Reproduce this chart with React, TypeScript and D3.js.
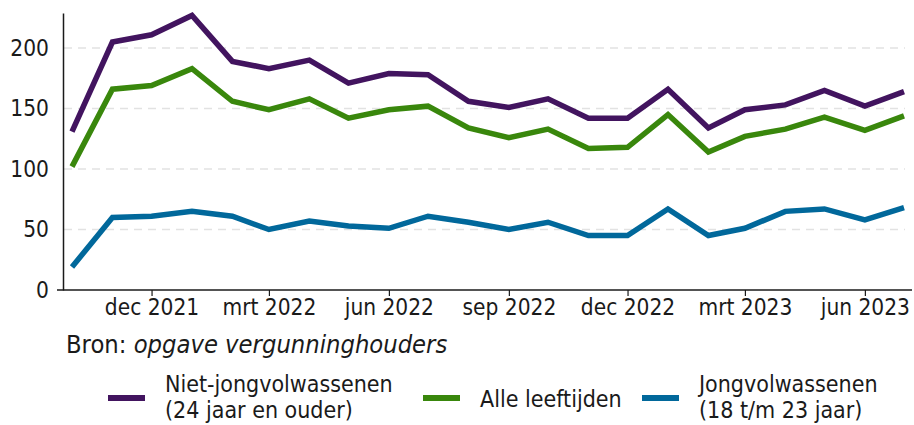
import * as d3 from 'd3';
import React, { useEffect, useRef } from 'react';

// monthly data, okt 2021 t/m jul 2023
const months = [
  '2021-10', '2021-11', '2021-12', '2022-01', '2022-02', '2022-03', '2022-04', '2022-05',
  '2022-06', '2022-07', '2022-08', '2022-09', '2022-10', '2022-11', '2022-12', '2023-01',
  '2023-02', '2023-03', '2023-04', '2023-05', '2023-06', '2023-07',
];
const nietJong = [131, 205, 211, 227, 189, 183, 190, 171, 179, 178, 156, 151, 158, 142, 142, 166, 134, 149, 153, 165, 152, 164];
const alle = [102, 166, 169, 183, 156, 149, 158, 142, 149, 152, 134, 126, 133, 117, 118, 145, 114, 127, 133, 143, 132, 144];
const jong = [19, 60, 61, 65, 61, 50, 57, 53, 51, 61, 56, 50, 56, 45, 45, 67, 45, 51, 65, 67, 58, 68];

const tickMonths = ['2021-12', '2022-03', '2022-06', '2022-09', '2022-12', '2023-03', '2023-06'];
const tickLabels = ['dec 2021', 'mrt 2022', 'jun 2022', 'sep 2022', 'dec 2022', 'mrt 2023', 'jun 2023'];
const yTicks = [0, 50, 100, 150, 200];

const series = [
  { name: ['Niet-jongvolwassenen', '(24 jaar en ouder)'], values: nietJong, color: '#42145f' },
  { name: ['Alle leeftijden'], values: alle, color: '#39870c' },
  { name: ['Jongvolwassenen', '(18 t/m 23 jaar)'], values: jong, color: '#01689b' },
];

const W = 914;
const H = 425;
const FONT = '"DejaVu Sans Condensed", "DejaVu Sans", sans-serif';

const App = () => {
  const ref = useRef(null);

  useEffect(() => {
    const svg = d3.select(ref.current);
    svg.selectAll('*').remove();

    const parse = d3.timeParse('%Y-%m');
    const dates = months.map(parse);

    const x = d3.scaleTime()
      .domain([dates[0], dates[dates.length - 1]])
      .range([72, 904]);
    const y = d3.scaleLinear().domain([0, 229]).range([290, 13]);

    // gridlines
    svg.append('g')
      .selectAll('line')
      .data(yTicks.filter(d => d > 0))
      .enter()
      .append('line')
      .attr('x1', 64)
      .attr('x2', 905)
      .attr('y1', d => y(d))
      .attr('y2', d => y(d))
      .attr('stroke', '#e2e2e2')
      .attr('stroke-width', 1.5)
      .attr('stroke-dasharray', '8,6');

    // y axis
    const yAxis = d3.axisLeft(y).tickValues(yTicks).tickSize(0).tickPadding(14);
    const gy = svg.append('g').attr('transform', 'translate(63,0)').call(yAxis);
    gy.select('.domain').attr('stroke', '#1a1a1a').attr('stroke-width', 1.5);
    gy.selectAll('text')
      .attr('font-family', FONT)
      .attr('font-size', 22.5)
      .attr('fill', '#1a1a1a');

    // x axis
    const xAxis = d3.axisBottom(x)
      .tickValues(tickMonths.map(parse))
      .tickFormat((d, i) => tickLabels[i])
      .tickSizeInner(6)
      .tickSizeOuter(0)
      .tickPadding(3);
    const gx = svg.append('g').attr('transform', 'translate(0,290)').call(xAxis);
    gx.select('.domain').remove();
    gx.append('line')
      .attr('x1', 57)
      .attr('x2', 912)
      .attr('stroke', '#1a1a1a')
      .attr('stroke-width', 1.5);
    gx.selectAll('.tick line').attr('stroke', '#1a1a1a').attr('stroke-width', 1.2);
    gx.selectAll('text')
      .attr('font-family', FONT)
      .attr('font-size', 22.5)
      .attr('fill', '#1a1a1a');

    // lines
    const line = d3.line()
      .x((d, i) => x(dates[i]))
      .y(d => y(d));

    svg.append('g')
      .selectAll('path')
      .data(series)
      .enter()
      .append('path')
      .attr('d', d => line(d.values))
      .attr('fill', 'none')
      .attr('stroke', d => d.color)
      .attr('stroke-width', 5.5)
      .attr('stroke-linejoin', 'miter');

    // source
    const src = svg.append('text')
      .attr('x', 66)
      .attr('y', 353)
      .attr('font-family', FONT)
      .attr('font-size', 25.3)
      .attr('fill', '#1a1a1a');
    src.append('tspan').text('Bron: ');
    src.append('tspan').attr('font-style', 'italic').text('opgave vergunninghouders');

    // legend
    const legendX = [108, 423, 642];
    const lg = svg.append('g')
      .selectAll('g')
      .data(series)
      .enter()
      .append('g')
      .attr('transform', (d, i) => `translate(${legendX[i]},398)`);
    lg.append('line')
      .attr('x1', 0)
      .attr('x2', 37)
      .attr('stroke', d => d.color)
      .attr('stroke-width', 6);
    lg.each(function (d) {
      const t = d3.select(this).append('text')
        .attr('x', 57)
        .attr('font-family', FONT)
        .attr('font-size', 23)
        .attr('fill', '#1a1a1a');
      if (d.name.length === 1) {
        t.attr('y', 9).text(d.name[0]);
      } else {
        t.append('tspan').attr('x', 57).attr('y', -6).text(d.name[0]);
        t.append('tspan').attr('x', 57).attr('y', 20).text(d.name[1]);
      }
    });
  }, []);

  return (
    <svg ref={ref} width={W} height={H} style={{ position: 'absolute', left: 0, top: 0, background: '#fff' }}></svg>
  );
};

export default App;
